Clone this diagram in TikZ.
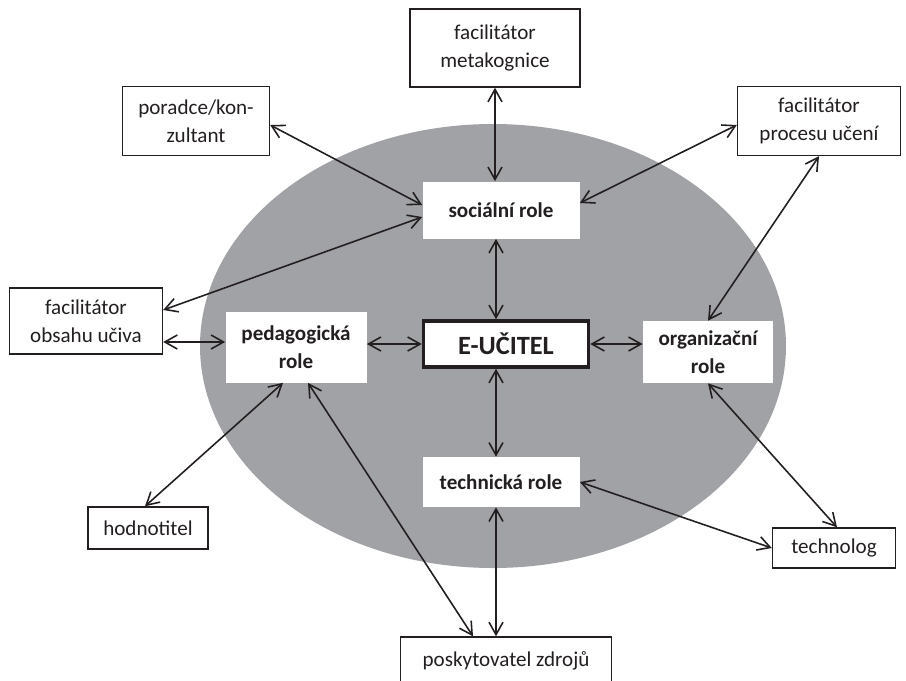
\documentclass[tikz,border=0pt]{standalone}
\usepackage{fontspec}
\setmainfont{Carlito}
\usetikzlibrary{arrows.meta}

\definecolor{ovalgray}{RGB}{161,162,166}
\definecolor{inkgray}{RGB}{35,31,32}

\begin{document}
\begin{tikzpicture}[
  outerbox/.style={draw=inkgray,line width=0.8pt,align=center,inner sep=0pt,text=inkgray,font=\fontsize{12}{15.9}\selectfont},
  rolebox/.style={fill=white,align=center,inner sep=0pt,text=inkgray,font=\fontsize{12}{15.9}\selectfont\bfseries},
  link/.style={{Straight Barb[length=2.5mm,width=2.8mm]}-{Straight Barb[length=2.5mm,width=2.8mm]},line width=0.9pt,draw=inkgray}
]
\useasboundingbox (0,0) rectangle (18.12,-13.62);

\fill[ovalgray] (9.86,-6.92) ellipse [x radius=5.86, y radius=4.44];

% roles
\node[rolebox,minimum width=3.14cm,minimum height=1.14cm] (RoleSocial) at (10.02,-4.2) {sociální role};
\node[rolebox,minimum width=2.82cm,minimum height=1.42cm] (RolePed) at (5.92,-6.94) {pedagogická\\role};
\node[rolebox,minimum width=2.6cm,minimum height=1.24cm] (RoleOrg) at (14.16,-7.04) {organizační\\role};
\node[rolebox,minimum width=3.14cm,minimum height=1.0cm] (RoleTech) at (10.02,-9.64) {technická role};

\node[draw=inkgray,fill=white,line width=2pt,inner sep=0pt,minimum width=3.3cm,minimum height=0.92cm,text=inkgray,font=\fontsize{15}{18}\selectfont\bfseries] (Teacher) at (10.12,-6.88) {E-UČITEL};

% outer roles
\node[outerbox,minimum width=3.4cm,minimum height=1.56cm] (FacMeta) at (9.9,-0.96) {facilitátor\\metakognice};
\node[outerbox,minimum width=2.94cm,minimum height=1.38cm] (Advisor) at (3.92,-2.42) {poradce/kon-\\zultant};
\node[outerbox,minimum width=3.26cm,minimum height=1.38cm] (FacProcess) at (16.38,-2.42) {facilitátor\\procesu učení};
\node[outerbox,minimum width=3.06cm,minimum height=1.32cm] (FacContent) at (1.72,-6.42) {facilitátor\\obsahu učiva};
\node[outerbox,minimum width=2.4cm,minimum height=0.84cm] (Assessor) at (2.96,-10.56) {hodnotitel};
\node[outerbox,minimum width=2.46cm,minimum height=0.8cm] (Technologist) at (16.68,-10.96) {technolog};
\node[outerbox,minimum width=4.22cm,minimum height=0.96cm] (Provider) at (10.12,-13.22) {poskytovatel zdrojů};

% connections
\draw[link] (FacMeta.south) -- (FacMeta.south |- RoleSocial.north);
\draw[link] ([yshift=-0.08cm]Advisor.east) -- ([yshift=0.1cm]RoleSocial.west);
\draw[link] ([yshift=0.22cm]FacContent.east) -- ([yshift=-0.14cm]RoleSocial.west);
\draw[link] ([yshift=0.14cm]RoleSocial.east) -- ([yshift=-0.08cm]FacProcess.west);

\draw[link] ([yshift=-0.42cm]FacContent.east) -- ([yshift=-0.42cm]FacContent.east -| RolePed.west);
\draw[link] (RolePed.east |- Teacher.west) -- (Teacher.west);
\draw[link] (Teacher.east) -- (Teacher.east -| RoleOrg.west);

\draw[link] ([xshift=-0.2cm]Teacher.north) -- ([xshift=-0.2cm]Teacher.north |- RoleSocial.south);
\draw[link] ([xshift=-0.2cm]Teacher.south) -- ([xshift=-0.2cm]Teacher.south |- RoleTech.north);
\draw[link] ([xshift=-0.1cm]RoleTech.south) -- ([xshift=-0.1cm]RoleTech.south |- Provider.north);

\draw[link] (FacProcess.south) -- (RoleOrg.north);
\draw[link] (RoleOrg.south) -- ([xshift=0.06cm]Technologist.north);
\draw[link] (RoleTech.east) -- (Technologist.west);

\draw[link] ([xshift=-0.26cm]RolePed.south) -- ([xshift=-0.06cm]Assessor.north);
\draw[link] ([xshift=0.24cm]RolePed.south) -- ([xshift=-0.66cm]Provider.north);

\end{tikzpicture}
\end{document}
